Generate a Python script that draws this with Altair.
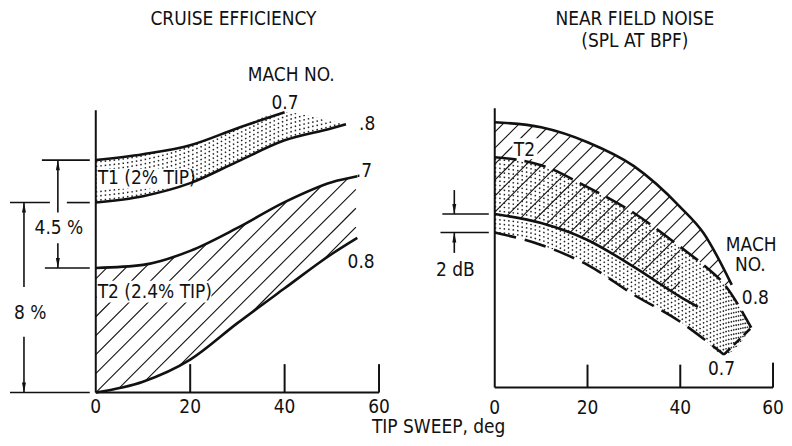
import altair as alt
import pandas as pd

FONT = "Liberation Sans Narrow, DejaVu Sans Condensed, Liberation Sans, sans-serif"
FS = 19
INK = "#111111"

# ---------------- values ----------------
X_TICKS = [0, 20, 40, 60]
X_TICK_LABELS = ["0", "20", "40", "60"]

# Cruise efficiency, percent (0 = T2 at Mach 0.8, zero sweep)
L_T2_SWEEP = [0, 10, 20, 30, 40, 50, 55.4]
L_T2_M07 = [5.26, 5.39, 5.98, 6.95, 8.04, 8.88, 9.13]
L_T2_M08 = [0.00, 0.46, 1.39, 2.93, 4.40, 5.85, 6.53]
L_T1_SWEEP = [0, 10, 20, 30, 40, 50, 53]
L_T1_M07 = [9.81, 10.06, 10.44, 11.16, 11.83]          # solid line, to 40 deg
L_T1_TIP_EDGE = [11.45, 11.33]                         # stippled edge at 50, 53 deg
L_T1_M08 = [8.02, 8.29, 8.84, 9.75, 10.65, 11.16, 11.33]

# Near field noise, dB above the sweep axis
R_T2_M08_SWEEP = [0, 10, 20, 30, 40, 45, 51.1]
R_T2_M08 = [26.6, 26.1, 24.6, 22.2, 18.1, 15.5, 10.3]
R_T2_M07_SWEEP = [0, 10, 20, 30, 40, 43.8]
R_T2_M07 = [17.4, 16.5, 14.8, 12.1, 9.1, 8.1]
R_T1_SWEEP = [0, 10, 20, 30, 40, 45, 49.4, 55.3]
R_T1_M08 = [23.1, 22.3, 20.1, 17.5, 14.1, 12.3, 10.4, 6.0]
R_T1_M07 = [15.55, 14.3, 12.3, 9.3, 6.6, 4.9, 3.3]     # closed by an end cap to the 0.8 tip

# ---------------- scales (one per panel) ----------------
LW, LH = 432, 430
RW, RH = 344, 430
LX = alt.Scale(domain=[-18.593, 72.68], nice=False, zero=False)
LY = alt.Scale(domain=[-1.895, 16.21], nice=False, zero=False)
RX = alt.Scale(domain=[-12.043, 61.935], nice=False, zero=False)
RY = alt.Scale(domain=[-5.0, 38.0], nice=False, zero=False)


def xy(XS, YS):
    return dict(x=alt.X("x:Q", scale=XS, axis=None), y=alt.Y("y:Q", scale=YS, axis=None))


def curve(xs, ys, XS, YS, **kw):
    df = pd.DataFrame({"x": xs, "y": ys})
    style = dict(color=INK, strokeWidth=2.6, interpolate="monotone")
    style.update(kw)
    return alt.Chart(df).mark_line(**style).encode(**xy(XS, YS))


def segs(rows, XS, YS, **kw):
    df = pd.DataFrame(rows, columns=["x", "y", "x2", "y2"])
    style = dict(color=INK, strokeWidth=1.6)
    style.update(kw)
    return alt.Chart(df).mark_rule(**style).encode(**xy(XS, YS), x2="x2:Q", y2="y2:Q")


def mask(xs, ys, edge, XS, YS):
    df = pd.DataFrame({"x": xs, "y": ys, "y2": [edge] * len(xs)})
    return alt.Chart(df).mark_area(color="white", opacity=1, interpolate="monotone",
                                   clip=True).encode(**xy(XS, YS), y2="y2:Q")


def box(x, x2, y, y2, XS, YS):
    df = pd.DataFrame({"x": [x], "x2": [x2], "y": [y], "y2": [y2]})
    return alt.Chart(df).mark_rect(color="white", opacity=1).encode(**xy(XS, YS), x2="x2:Q", y2="y2:Q")


def texts(rows, XS, YS, **kw):
    df = pd.DataFrame(rows, columns=["x", "y", "t"])
    style = dict(font=FONT, fontSize=FS, color=INK, baseline="middle", align="center")
    style.update(kw)
    return alt.Chart(df).mark_text(**style).encode(**xy(XS, YS), text="t:N")


UP = "M0,0L-0.4,2L0.4,2Z"
DOWN = "M0,0L-0.4,-2L0.4,-2Z"


def heads(rows, shape, XS, YS):
    df = pd.DataFrame(rows, columns=["x", "y"])
    return alt.Chart(df).mark_point(shape=shape, filled=True, size=100, color=INK,
                                    opacity=1, strokeWidth=0).encode(**xy(XS, YS))


def hatch(x0, x1, ylo, yhi, slope, start, step, count, XS, YS):
    # 45-degree hatch lines kept inside the band's bounding box (trimmed later by white masks)
    rows = []
    for k in range(count):
        a = start + step * k
        xa = max(x0, (ylo - a) / slope)
        xb = min(x1, (yhi - a) / slope)
        if xb > xa:
            rows.append((xa, a + slope * xa, xb, a + slope * xb))
    return segs(rows, XS, YS, strokeWidth=1.1)


def stipple(xs, base, step, n, XS, YS):
    # rows of dots running parallel to one edge of the band (trimmed later by a white mask)
    rows = []
    for k in range(n):
        for x, b in zip(xs, base):
            rows.append({"x": x, "y": b + (k + 0.5) * step, "k": k})
    df = pd.DataFrame(rows)
    return alt.Chart(df).mark_line(interpolate="monotone", strokeDash=[1.5, 3.0],
                                   strokeWidth=1.5, color="#222222", clip=True).encode(
        **xy(XS, YS), detail="k:N")


# ---------------- left panel: cruise efficiency ----------------
l_top = L_T1_M07 + L_T1_TIP_EDGE
left = alt.layer(
    hatch(0, L_T2_SWEEP[-1] - 0.3, -0.3, 9.5, 4.733 / 23.75, -11.2, 0.8, 26, LX, LY),
    mask(L_T2_SWEEP, L_T2_M07, 19.0, LX, LY),
    mask(L_T2_SWEEP, L_T2_M08, -4.0, LX, LY),
    stipple(L_T1_SWEEP, L_T1_M08, 0.18, 11, LX, LY),
    mask(L_T1_SWEEP, l_top, 19.0, LX, LY),
    box(0.2, 20.3, 8.6, 9.45, LX, LY),
    box(0.2, 24.5, 3.8, 4.72, LX, LY),
    curve(L_T1_SWEEP[:5], L_T1_M07, LX, LY),
    curve(L_T1_SWEEP, L_T1_M08, LX, LY),
    curve(L_T2_SWEEP, L_T2_M07, LX, LY),
    curve(L_T2_SWEEP, L_T2_M08, LX, LY),
    # frame and ticks
    segs([(0, 0, 0, 11.92), (0, 0, 60, 0)] + [(t, 0, t, 1.2) for t in X_TICKS[1:]],
         LX, LY, strokeWidth=2),
    texts(list(zip(X_TICKS, [-0.63] * 4, X_TICK_LABELS)), LX, LY),
    # dimension lines
    segs([(-11.41, L_T1_M07[0], -1.27, L_T1_M07[0]),
          (-18.17, L_T1_M08[0], -9.72, L_T1_M08[0]),
          (-6.13, L_T1_M08[0], -1.27, L_T1_M08[0]),
          (-10.78, L_T2_M07[0], -1.27, L_T2_M07[0]),
          (-18.17, 0, -1.27, 0),
          (-8.03, L_T1_M07[0], -8.03, 7.6),
          (-8.03, 6.3, -8.03, L_T2_M07[0]),
          (-15.21, L_T1_M08[0], -15.21, 4.46),
          (-15.21, 2.36, -15.21, 0)], LX, LY),
    heads([(-8.03, L_T1_M07[0]), (-15.21, L_T1_M08[0])], UP, LX, LY),
    heads([(-8.03, L_T2_M07[0]), (-15.21, 0)], DOWN, LX, LY),
    texts([(-7.8, 6.95, "4.5 %"), (-13.9, 3.37, "8 %"),
           (29.16, 15.77, "CRUISE EFFICIENCY"), (41.4, 13.41, "MACH NO."),
           (40.1, 12.23, "0.7"), (57.5, 11.33, ".8"), (56.8, 9.35, ".7"),
           (56.2, 5.52, "0.8")], LX, LY),
    texts([(0.4, 9.05, "T1 (2% TIP)"), (0.4, 4.25, "T2 (2.4% TIP)")], LX, LY, align="left"),
).properties(width=LW, height=LH)

# ---------------- right panel: near field noise ----------------
r_lo = R_T1_M07 + [R_T1_M08[-1]]
right = alt.layer(
    hatch(0, R_T2_M08_SWEEP[-1] - 0.3, 7.0, 27.5, 4.65 / 10, -16.0, 1.6, 28, RX, RY),
    mask(R_T2_M08_SWEEP, R_T2_M08, 41.0, RX, RY),
    mask(R_T2_M07_SWEEP, R_T2_M07, -8.0, RX, RY),
    mask(R_T1_SWEEP[4:], R_T1_M08[4:], -8.0, RX, RY),
    stipple(R_T1_SWEEP, R_T1_M08, -0.43, 19, RX, RY),
    mask(R_T1_SWEEP, r_lo, -8.0, RX, RY),
    box(3.8, 9.2, 22.9, 25.0, RX, RY),
    curve(R_T2_M08_SWEEP, R_T2_M08, RX, RY),
    curve(R_T2_M07_SWEEP, R_T2_M07, RX, RY),
    curve(R_T1_SWEEP, R_T1_M08, RX, RY, strokeDash=[22, 8]),
    curve(R_T1_SWEEP[:7], R_T1_M07, RX, RY, strokeDash=[22, 9]),
    curve([R_T1_SWEEP[6], R_T1_SWEEP[7]], [R_T1_M07[-1], R_T1_M08[-1]], RX, RY,
          strokeDash=[9, 5], interpolate="linear"),
    segs([(0, 0, 0, 28), (0, 0, 60, 0), (20, 0, 20, 2.3), (40, 0, 40, 2.3), (60, 0, 60, 2.5)],
         RX, RY, strokeWidth=2),
    texts(list(zip(X_TICKS, [-2.0] * 4, X_TICK_LABELS)), RX, RY),
    segs([(-11.3, R_T2_M07[0], -1.28, R_T2_M07[0]),
          (-11.7, R_T1_M07[0], -1.28, R_T1_M07[0]),
          (-8.72, 19.8, -8.72, R_T2_M07[0]),
          (-8.72, 13.5, -8.72, R_T1_M07[0])], RX, RY),
    heads([(-8.72, R_T2_M07[0])], DOWN, RX, RY),
    heads([(-8.72, R_T1_M07[0])], UP, RX, RY),
    texts([(30.2, 36.95, "NEAR FIELD NOISE"), (30.2, 34.7, "(SPL AT BPF)"),
           (6.4, 23.8, "T2"), (55.3, 14.3, "MACH"), (55.1, 12.3, "NO."),
           (56.2, 9.0, "0.8"), (48.9, 1.9, "0.7"), (-8.5, 11.8, "2 dB"),
           (-12.1, -4.0, "TIP SWEEP, deg")], RX, RY),
).properties(width=RW, height=RH)

chart = alt.hconcat(left, right, spacing=0, bounds="flush").properties(
    padding=0, background="white"
).configure_view(stroke=None)

chart.save("out.html", embed_options={"renderer": "svg", "actions": False})
